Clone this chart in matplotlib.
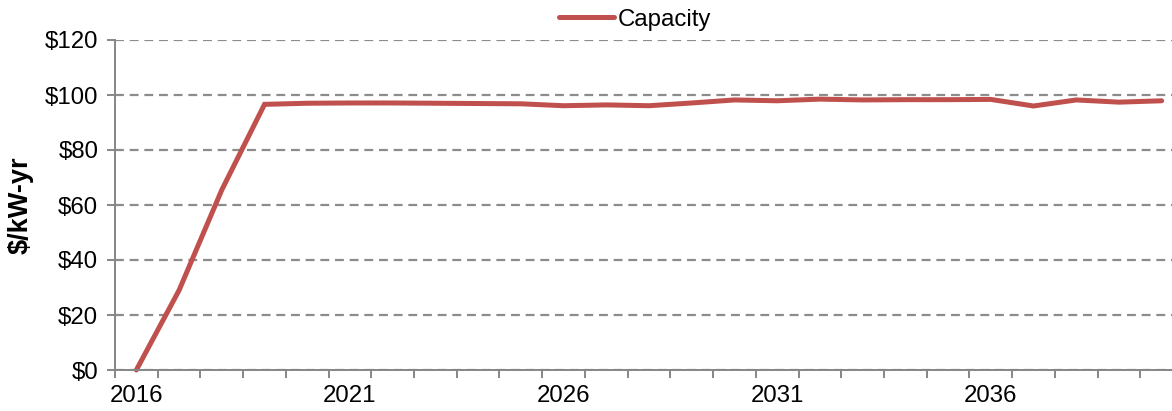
import matplotlib.pyplot as plt
import numpy as np

plt.rcParams['font.family'] = ['Liberation Sans', 'DejaVu Sans']

# Capacity price by year ($/kW-yr)
years = list(range(2016, 2041))
capacity = [0.0, 29.0, 65.5, 96.6, 97.0, 97.1, 97.1, 97.0, 96.9, 96.8,
            96.1, 96.4, 96.1, 97.1, 98.2, 97.9, 98.5, 98.2, 98.3, 98.3,
            98.4, 96.0, 98.2, 97.4, 97.9]
tick_labels = ["2016", "2021", "2026", "2031", "2036"]

axis_grey = "#868686"
font_size = 17.3


def main():
	fig = plt.figure(figsize=(11.72, 4.11), dpi=100)
	# axes runs a little past the right edge of the figure
	ax = fig.add_axes([115 / 1172, 41 / 411, 1068 / 1172, 330 / 411])

	x = np.arange(len(years))
	ax.plot(x, capacity, color="#C0504D", linewidth=3.6, label="Capacity",
			solid_joinstyle="miter", solid_capstyle="round", clip_on=False)

	ax.set_xlim(-0.5, len(years) - 0.5)
	ax.set_ylim(0, 120)
	ax.set_yticks(np.arange(0, 121, 20))
	ax.set_yticklabels(["$%d" % v for v in range(0, 121, 20)])

	# category axis: labels every 5 years, tick marks between categories
	ax.set_xticks([years.index(int(t)) for t in tick_labels])
	ax.set_xticklabels(tick_labels)
	ax.tick_params(axis="x", which="major", length=0, pad=11)
	ax.set_xticks(np.arange(-0.5, len(years), 1), minor=True)
	ax.tick_params(axis="x", which="minor", length=6, width=1.4, color=axis_grey, direction="out")
	ax.tick_params(axis="y", length=6, width=1.4, color=axis_grey, pad=6)
	ax.tick_params(labelsize=font_size)

	ax.yaxis.grid(True, linestyle=(0, (4, 2.6)), color="#8c8c8c", linewidth=1.6)
	ax.set_axisbelow(True)
	for side in ["top", "right"]:
		ax.spines[side].set_visible(False)
	for side in ["left", "bottom"]:
		ax.spines[side].set_color(axis_grey)
		ax.spines[side].set_linewidth(1.4)

	ax.set_ylabel("$/kW-yr", fontsize=19.5, fontweight="bold", labelpad=8)

	ax.legend(loc="lower center", bbox_to_anchor=(0.487, 0.985), frameon=False,
			fontsize=font_size, handlelength=2.3, handletextpad=0.17, borderpad=0.1)

	fig.savefig("out.png", dpi=100)


main()
